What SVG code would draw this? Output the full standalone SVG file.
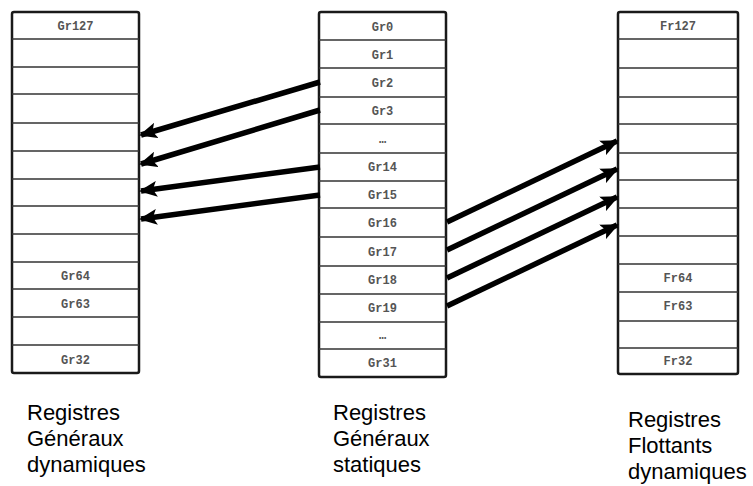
<svg xmlns="http://www.w3.org/2000/svg" width="753" height="486" viewBox="0 0 753 486">
<style>
.col{fill:#fff;stroke:#1a1a1a;stroke-width:2.5}
.row{stroke:#333;stroke-width:1.6}
.reg{font-family:"Liberation Mono","DejaVu Sans Mono",monospace;font-size:12px;font-weight:bold;fill:#555;text-anchor:middle}
.lbl{font-family:"Liberation Sans",Arial,sans-serif;font-size:22px;fill:#000}
.arr{stroke:#000;stroke-width:5.5;fill:none;marker-end:url(#ah)}
</style>
<defs>
<marker id="ah" markerUnits="userSpaceOnUse" markerWidth="18" markerHeight="16" refX="16" refY="8" orient="auto">
<path d="M0,0 L18,8 L0,16 L4,8 Z" fill="#000"/>
</marker>
</defs>
<rect width="753" height="486" fill="#fff"/>
<g id="left-column">
<rect class="col" x="12" y="12" width="127" height="361" rx="2"/>
<path class="row" d="M12,39H139M12,67H139M12,94H139M12,123H139M12,151H139M12,179H139M12,206H139M12,234H139M12,262H139M12,289H139M12,317H139M12,345H139"/>
<text class="reg" x="75.5" y="30">Gr127</text>
<text class="reg" x="75.5" y="280">Gr64</text>
<text class="reg" x="75.5" y="308">Gr63</text>
<text class="reg" x="75.5" y="364">Gr32</text>
</g>
<g id="middle-column">
<rect class="col" x="319" y="12" width="127" height="365" rx="2"/>
<path class="row" d="M319,40H446M319,68H446M319,97H446M319,124H446M319,153H446M319,181H446M319,208H446M319,237H446M319,266H446M319,294H446M319,322H446M319,349H446"/>
<text class="reg" x="382.5" y="31">Gr0</text>
<text class="reg" x="382.5" y="59">Gr1</text>
<text class="reg" x="382.5" y="87">Gr2</text>
<text class="reg" x="382.5" y="115">Gr3</text>
<text class="reg" x="382.5" y="143">…</text>
<text class="reg" x="382.5" y="171">Gr14</text>
<text class="reg" x="382.5" y="199">Gr15</text>
<text class="reg" x="382.5" y="227">Gr16</text>
<text class="reg" x="382.5" y="256">Gr17</text>
<text class="reg" x="382.5" y="284">Gr18</text>
<text class="reg" x="382.5" y="312">Gr19</text>
<text class="reg" x="382.5" y="339">…</text>
<text class="reg" x="382.5" y="367">Gr31</text>
</g>
<g id="right-column">
<rect class="col" x="618" y="12" width="120" height="362" rx="2"/>
<path class="row" d="M618,39H738M618,68H738M618,97H738M618,124H738M618,153H738M618,180H738M618,208H738M618,236H738M618,264H738M618,292H738M618,321H738M618,348H738"/>
<text class="reg" x="678" y="30">Fr127</text>
<text class="reg" x="678" y="282">Fr64</text>
<text class="reg" x="678" y="310">Fr63</text>
<text class="reg" x="678" y="365">Fr32</text>
</g>
<g id="connectors">
<line class="arr" x1="320" y1="82" x2="141" y2="135"/>
<line class="arr" x1="320" y1="110" x2="141" y2="164"/>
<line class="arr" x1="320" y1="167" x2="141" y2="191"/>
<line class="arr" x1="320" y1="195" x2="141" y2="219"/>
<line class="arr" x1="447" y1="222" x2="617" y2="141"/>
<line class="arr" x1="447" y1="250" x2="617" y2="169"/>
<line class="arr" x1="447" y1="278" x2="617" y2="197"/>
<line class="arr" x1="447" y1="306" x2="617" y2="225"/>
</g>
<g id="label-left">
<text class="lbl" x="27" y="420">Registres</text>
<text class="lbl" x="27" y="446">Généraux</text>
<text class="lbl" x="27" y="472">dynamiques</text>
</g>
<g id="label-middle">
<text class="lbl" x="333" y="420">Registres</text>
<text class="lbl" x="333" y="446">Généraux</text>
<text class="lbl" x="333" y="472">statiques</text>
</g>
<g id="label-right">
<text class="lbl" x="628" y="427">Registres</text>
<text class="lbl" x="628" y="453">Flottants</text>
<text class="lbl" x="628" y="479">dynamiques</text>
</g>
</svg>
